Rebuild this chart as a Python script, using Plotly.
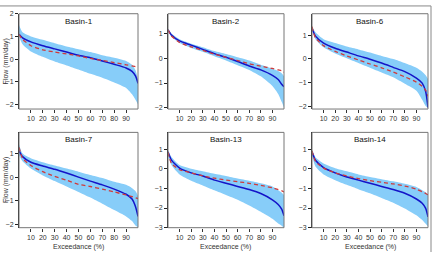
import plotly.graph_objects as go

# Exceedance points (%)
exceed = [0, 3, 10, 20, 30, 40, 50, 60, 70, 80, 90, 95, 98, 100]

basins = ["Basin-1", "Basin-2", "Basin-6", "Basin-7", "Basin-13", "Basin-14"]

# Upper / lower bounds of the simulated range (light blue band)
b1_upper = [1.5, 1.18, 1.0, 0.85, 0.7, 0.56, 0.44, 0.31, 0.17, 0.06, -0.08, -0.25, -0.5, -0.9]
b1_lower = [1.0, 0.66, 0.34, 0.1, -0.11, -0.28, -0.46, -0.65, -0.82, -1.03, -1.27, -1.55, -1.8, -2.0]
b1_mean = [1.1, 0.94, 0.76, 0.59, 0.45, 0.31, 0.17, 0.06, -0.08, -0.23, -0.39, -0.54, -0.75, -1.07]
b1_obs = [1.08, 0.87, 0.59, 0.41, 0.31, 0.23, 0.14, 0.03, -0.06, -0.15, -0.25, -0.3, -0.33, -0.37]

b2_upper = [1.19, 1.0, 0.77, 0.59, 0.45, 0.29, 0.17, 0.04, -0.09, -0.26, -0.42, -0.51, -0.6, -0.73]
b2_lower = [1.06, 0.87, 0.62, 0.42, 0.26, 0.08, -0.09, -0.28, -0.47, -0.73, -1.12, -1.44, -1.76, -2.0]
b2_mean = [1.15, 0.94, 0.7, 0.53, 0.36, 0.19, 0.04, -0.13, -0.31, -0.47, -0.69, -0.86, -1.05, -1.15]
b2_obs = [1.15, 0.9, 0.64, 0.46, 0.32, 0.17, 0.04, -0.09, -0.22, -0.32, -0.41, -0.47, -0.5, -0.56]

b6_upper = [1.36, 1.12, 0.83, 0.67, 0.52, 0.4, 0.27, 0.13, 0.0, -0.17, -0.37, -0.53, -0.68, -0.84]
b6_lower = [1.23, 0.83, 0.49, 0.23, 0.03, -0.17, -0.37, -0.57, -0.77, -1.04, -1.33, -1.71, -1.97, -2.04]
b6_mean = [1.29, 0.96, 0.67, 0.45, 0.29, 0.13, -0.01, -0.17, -0.35, -0.53, -0.8, -1.01, -1.37, -2.04]
b6_obs = [1.36, 0.89, 0.56, 0.32, 0.13, -0.04, -0.21, -0.37, -0.55, -0.75, -0.97, -1.15, -1.31, -1.57]

b7_upper = [1.4, 1.0, 0.8, 0.63, 0.49, 0.36, 0.23, 0.09, -0.04, -0.2, -0.33, -0.47, -0.6, -0.8]
b7_lower = [0.93, 0.67, 0.36, 0.07, -0.17, -0.4, -0.63, -0.87, -1.13, -1.4, -1.67, -1.87, -2.07, -2.13]
b7_mean = [1.13, 0.87, 0.63, 0.47, 0.33, 0.17, 0.0, -0.17, -0.33, -0.51, -0.73, -0.93, -1.27, -1.67]
b7_obs = [1.27, 0.8, 0.49, 0.23, 0.03, -0.13, -0.31, -0.4, -0.51, -0.63, -0.76, -0.83, -0.88, -0.91]

b13_upper = [0.92, 0.6, 0.19, 0.0, -0.13, -0.26, -0.37, -0.5, -0.61, -0.74, -0.9, -1.1, -1.22, -1.34]
b13_lower = [0.68, 0.19, -0.29, -0.61, -0.85, -1.1, -1.34, -1.58, -1.87, -2.19, -2.55, -2.79, -2.9, -3.0]
b13_mean = [0.87, 0.44, 0.03, -0.21, -0.37, -0.58, -0.74, -0.9, -1.06, -1.26, -1.58, -1.82, -2.06, -2.39]
b13_obs = [0.84, 0.27, -0.05, -0.21, -0.37, -0.48, -0.58, -0.66, -0.74, -0.85, -0.97, -1.06, -1.12, -1.18]

b14_upper = [0.96, 0.59, 0.27, 0.03, -0.13, -0.29, -0.42, -0.53, -0.64, -0.77, -0.93, -1.09, -1.2, -1.33]
b14_lower = [0.67, 0.11, -0.29, -0.58, -0.82, -1.04, -1.25, -1.49, -1.73, -2.02, -2.37, -2.61, -2.8, -2.93]
b14_mean = [0.86, 0.43, 0.06, -0.21, -0.42, -0.58, -0.74, -0.9, -1.06, -1.25, -1.54, -1.76, -2.02, -2.45]
b14_obs = [0.91, 0.38, 0.03, -0.21, -0.37, -0.5, -0.61, -0.69, -0.77, -0.88, -1.04, -1.17, -1.26, -1.33]

uppers = [b1_upper, b2_upper, b6_upper, b7_upper, b13_upper, b14_upper]
lowers = [b1_lower, b2_lower, b6_lower, b7_lower, b13_lower, b14_lower]
means = [b1_mean, b2_mean, b6_mean, b7_mean, b13_mean, b14_mean]
observed = [b1_obs, b2_obs, b6_obs, b7_obs, b13_obs, b14_obs]

y_ranges = [[-2.2, 2.0], [-2.05, 1.8], [-2.1, 1.9], [-2.15, 1.9], [-3.0, 1.85], [-3.0, 1.85]]
x_ticks = [10, 20, 30, 40, 50, 60, 70, 80, 90]

W, H = 435, 255
col_px = [(19, 138), (168, 284), (312, 428)]
row_px = [(10, 108), (132, 230)]

band_col = "#87CDF9"
mean_col = "#1414C8"
obs_col = "#D03A3A"
font = "Liberation Sans, Arial, sans-serif"

fig = go.Figure()
layout = dict(width=W, height=H, margin=dict(l=0, r=0, t=0, b=0),
              paper_bgcolor="white", plot_bgcolor="white", showlegend=False,
              font=dict(family=font, size=7, color="#333"))
shapes = []
annotations = []

for i, name in enumerate(basins):
    r, c = divmod(i, 3)
    k = "" if i == 0 else str(i + 1)
    xa, ya = "x" + k, "y" + k
    x0, x1 = col_px[c]
    y0, y1 = row_px[r]
    layout["xaxis" + k] = dict(domain=[x0 / W, x1 / W], range=[0, 100], anchor=ya,
                               tickvals=x_ticks, ticks="outside", ticklen=3, tickwidth=1,
                               tickcolor="#333", showgrid=False, zeroline=False,
                               showline=False, tickfont=dict(size=7, color="#333"))
    layout["yaxis" + k] = dict(domain=[1 - y1 / H, 1 - y0 / H], range=y_ranges[i], anchor=xa,
                               dtick=1, ticks="outside", ticklen=3, tickwidth=1,
                               tickcolor="#222", showgrid=False, zeroline=False,
                               showline=True, linecolor="#222", linewidth=1,
                               tickfont=dict(size=7, color="#333"))
    fig.add_trace(go.Scatter(x=exceed, y=uppers[i], mode="lines", line=dict(width=0, color=band_col, shape="spline", smoothing=0.6),
                             xaxis=xa, yaxis=ya, hoverinfo="skip"))
    fig.add_trace(go.Scatter(x=exceed, y=lowers[i], mode="lines", fill="tonexty", fillcolor=band_col,
                             line=dict(width=0, color=band_col, shape="spline", smoothing=0.6),
                             xaxis=xa, yaxis=ya, hoverinfo="skip"))
    fig.add_trace(go.Scatter(x=exceed, y=means[i], mode="lines",
                             line=dict(width=1.5, color=mean_col, shape="spline", smoothing=0.6),
                             xaxis=xa, yaxis=ya))
    fig.add_trace(go.Scatter(x=exceed, y=observed[i], mode="lines",
                             line=dict(width=1.3, color=obs_col, dash="4px,3px", shape="spline", smoothing=0.6),
                             xaxis=xa, yaxis=ya))
    shapes.append(dict(type="rect", xref=xa + " domain", yref=ya + " domain", x0=0, x1=1, y0=0, y1=1,
                       line=dict(color="#777", width=1), layer="above"))
    annotations.append(dict(text=name, xref=xa + " domain", yref=ya + " domain", x=0.5, y=1,
                            yshift=-1, xanchor="center", yanchor="top", showarrow=False,
                            font=dict(size=8, color="#111", family=font)))
    if c == 0:
        annotations.append(dict(text="Flow (mm/day)", xref="paper", yref="paper", x=6 / W,
                                y=1 - (y0 + y1) / 2 / H, textangle=-90, xanchor="center", yanchor="middle",
                                showarrow=False, font=dict(size=7, color="#333", family=font)))
    if r == 1:
        annotations.append(dict(text="Exceedance (%)", xref="paper", yref="paper", x=(x0 + x1) / 2 / W,
                                y=1 - 250 / H, xanchor="center", yanchor="middle",
                                showarrow=False, font=dict(size=7, color="#333", family=font)))

# outer frame lines (top and right)
shapes.append(dict(type="line", xref="paper", yref="paper", x0=0, x1=431 / W, y0=1 - 2 / H, y1=1 - 2 / H,
                   line=dict(color="#888", width=1)))
shapes.append(dict(type="line", xref="paper", yref="paper", x0=431 / W, x1=431 / W, y0=0, y1=1 - 2 / H,
                   line=dict(color="#888", width=1)))

layout["shapes"] = shapes
layout["annotations"] = annotations
fig.update_layout(**layout)
fig.write_html("out.html")
